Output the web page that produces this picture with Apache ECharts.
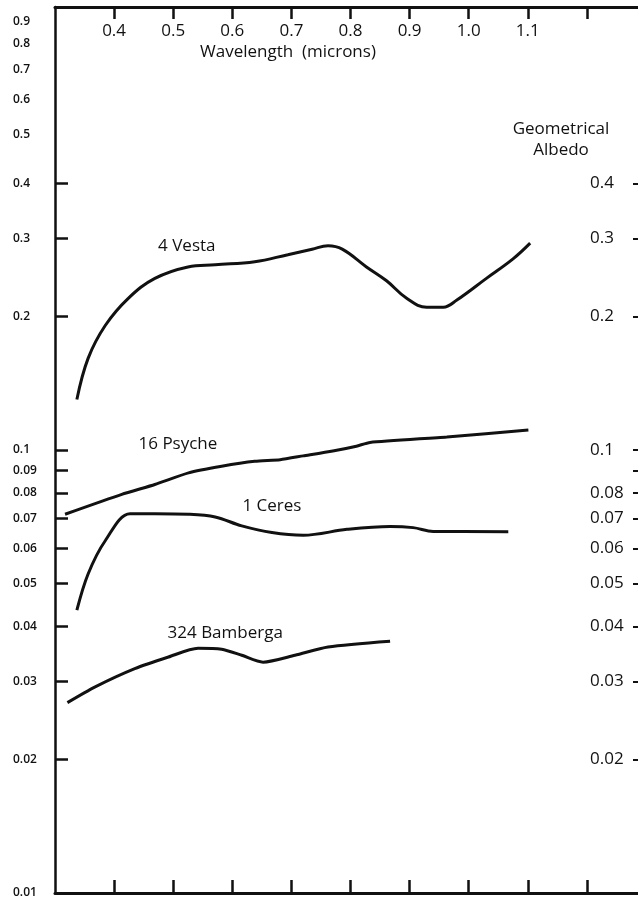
<!DOCTYPE html>
<html>
<head>
<meta charset="utf-8">
<script src="https://cdn.jsdelivr.net/npm/echarts@6/dist/echarts.min.js"></script>
<style>html,body{margin:0;padding:0;background:#fff;overflow:hidden;width:638px;height:899px;}#c{width:646px;height:899px;}</style>
</head>
<body>
<div id="c"></div>
<script>
// Wavelength (microns) vs geometrical albedo (log scale)
const vesta = [[0.337,0.130],[0.356,0.161],[0.385,0.191],[0.424,0.220],[0.469,0.244],[0.525,0.259],[0.571,0.262],[0.638,0.266],[0.694,0.276],[0.735,0.284],[0.762,0.289],[0.786,0.284],[0.827,0.259],[0.861,0.241],[0.895,0.220],[0.929,0.210],[0.957,0.210],[0.980,0.218],[1.030,0.244],[1.075,0.270],[1.104,0.293]];
const psyche = [[0.317,0.0716],[0.413,0.0794],[0.469,0.0836],[0.526,0.0888],[0.582,0.0919],[0.638,0.0943],[0.681,0.0951],[0.720,0.0970],[0.770,0.0995],[0.810,0.102],[0.833,0.104],[0.963,0.107],[1.101,0.111]];
const ceres = [[0.337,0.0435],[0.356,0.0525],[0.385,0.0624],[0.427,0.0718],[0.469,0.0718],[0.526,0.0716],[0.571,0.0706],[0.616,0.0674],[0.667,0.0651],[0.720,0.0642],[0.794,0.0662],[0.867,0.0672],[0.906,0.0668],[0.940,0.0655],[1.067,0.0654]];
const bamberga = [[0.321,0.0269],[0.368,0.0292],[0.435,0.0321],[0.492,0.0341],[0.542,0.0357],[0.582,0.0355],[0.616,0.0344],[0.652,0.0332],[0.706,0.0344],[0.762,0.0359],[0.867,0.0370]];

const seriesNames = ['4 Vesta','16 Psyche','1 Ceres','324 Bamberga'];
const nameAnchors = [[0.523,0.289],[0.508,0.1031],[0.667,0.0747],[0.588,0.0385]];

const xTickValues = [0.4,0.5,0.6,0.7,0.8,0.9,1.0,1.1,1.2];
const xLabelValues = [0.4,0.5,0.6,0.7,0.8,0.9,1.0,1.1];
const leftTickValues = [0.02,0.03,0.04,0.05,0.06,0.07,0.08,0.09,0.1,0.2,0.3,0.4];
const leftLabelValues = [0.01,0.02,0.03,0.04,0.05,0.06,0.07,0.08,0.09,0.1,0.2,0.3,0.4];
const leftUpperLabelValues = [0.5,0.6,0.7,0.8,0.9];
const rightTickValues = [0.02,0.03,0.04,0.05,0.06,0.07,0.08,0.09,0.1,0.2,0.3,0.4];
const rightLabelValues = [0.02,0.03,0.04,0.05,0.06,0.07,0.08,0.1,0.2,0.3,0.4];

const FONT = '"Open Sans", "Noto Sans", sans-serif';
const chart = echarts.init(document.getElementById('c'), null, {renderer:'canvas'});

function fmtY(v){
  return String(Math.round(v*1000)/1000);
}

const curveStyle = {color:'#111', width:3};
function mkSeries(name, data, anchor, smooth){
  return {
    type:'line', name:name, data:data, xAxisIndex:0, yAxisIndex:0,
    smooth:smooth, showSymbol:false, symbol:'none',
    lineStyle:curveStyle, silent:true, animation:false,
    markPoint:{
      symbol:'circle', symbolSize:0, silent:true, animation:false,
      data:[{coord:anchor, value:name}],
      label:{show:true, position:'inside', formatter:name, color:'#111',
             fontFamily:FONT, fontSize:17, fontWeight:500}
    }
  };
}

const option = {
  backgroundColor:'#fff',
  animation:false,
  grid:{left:55, right:0, top:7, bottom:2, containLabel:false},
  xAxis:[
    {type:'value', position:'top', min:0.3, max:1.3,
     axisLine:{show:true, lineStyle:{color:'#111', width:3}},
     axisTick:{show:true, inside:true, length:12, lineStyle:{width:2.5, color:'#111'}, customValues:xTickValues},
     axisLabel:{show:true, inside:true, margin:16, color:'#111', fontFamily:FONT, fontSize:17,
                customValues:xLabelValues, formatter:v=>v.toFixed(1)},
     splitLine:{show:false}},
    {type:'value', position:'bottom', min:0.3, max:1.3,
     axisLine:{show:true, lineStyle:{color:'#111', width:3}},
     axisTick:{show:true, inside:true, length:13, lineStyle:{width:2.5, color:'#111'}, customValues:xTickValues},
     axisLabel:{show:false},
     splitLine:{show:false}}
  ],
  yAxis:[
    {type:'log', logBase:10, min:0.01, max:1, position:'left',
     axisLine:{show:true, lineStyle:{color:'#111', width:2.5}},
     axisTick:{show:true, inside:true, length:13, lineStyle:{width:2.5, color:'#111'}, customValues:leftTickValues},
     axisLabel:{show:true, align:'left', margin:42, color:'#111', fontFamily:FONT, fontSize:12, fontWeight:600,
                customValues:leftLabelValues, formatter:fmtY},
     splitLine:{show:false}, minorTick:{show:false}},
    {type:'log', logBase:10, min:0.01, max:1, position:'left',
     axisLine:{show:false}, axisTick:{show:false},
     axisLabel:{show:true, align:'left', verticalAlign:'bottom', margin:42, color:'#111', fontFamily:FONT, fontSize:12, fontWeight:600,
                customValues:leftUpperLabelValues, formatter:fmtY},
     splitLine:{show:false}},
    {type:'log', logBase:10, min:0.01, max:1, position:'right',
     axisLine:{show:false},
     axisTick:{show:true, inside:true, length:13, lineStyle:{width:2, color:'#111'}, customValues:rightTickValues},
     axisLabel:{show:true, inside:true, align:'left', margin:56, color:'#111', fontFamily:FONT, fontSize:17,
                customValues:rightLabelValues, formatter:fmtY},
     splitLine:{show:false}}
  ],
  graphic:[
    {type:'text', left:200, top:44, style:{text:'Wavelength  (microns)', fill:'#111', font:'17px '+FONT}},
    {type:'text', x:561, y:121, style:{text:'Geometrical', fill:'#111', font:'17px '+FONT, textAlign:'center'}},
    {type:'text', x:561, y:142, style:{text:'Albedo', fill:'#111', font:'17px '+FONT, textAlign:'center'}}
  ],
  series:[
    mkSeries(seriesNames[0], vesta, nameAnchors[0], 0.4),
    mkSeries(seriesNames[1], psyche, nameAnchors[1], 0.2),
    mkSeries(seriesNames[2], ceres, nameAnchors[2], 0.35),
    mkSeries(seriesNames[3], bamberga, nameAnchors[3], 0.25)
  ]
};
chart.setOption(option);
</script>
</body>
</html>
